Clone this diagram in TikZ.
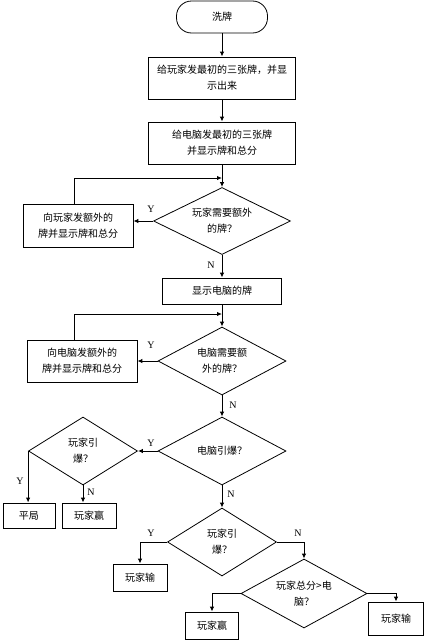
\documentclass[tikz,border=0pt]{standalone}
\usepackage{fontspec}
\setmainfont{Liberation Serif}
\newfontfamily\cjk{Noto Sans CJK SC}
\usetikzlibrary{shapes.geometric}
\usetikzlibrary{arrows.meta}
\tikzstyle{flowChart} = [x = 1pt, y = -1pt, every node/.style={font=\cjk\fontsize{10}{16}\selectfont}]
\tikzstyle{boxLine} = [draw, line width = .8pt, align = center, inner sep = 0pt]
\tikzstyle{startBox} = [boxLine, rectangle, rounded corners = 15pt]
\tikzstyle{stepBox} = [boxLine, rectangle]
\tikzstyle{decisionBox} = [boxLine, diamond, aspect = 2]
\tikzstyle{flowLine} = [line width = 1pt, -{Latex[length=5pt, width=4.5pt]}]
\tikzstyle{branchText} = [font=\rmfamily\fontsize{10}{12}\selectfont]
\newcommand{\stepNode}[6]{\node [stepBox, minimum width = #4pt, minimum height = #5pt] (#1) at (#2,#3) {#6};}
\newcommand{\decisionNode}[6]{\node [decisionBox, minimum width = #4pt, minimum height = #5pt] (#1) at (#2,#3) {#6};}
\newcommand{\branchLabel}[4]{\node [branchText] (#1) at (#2,#3) {#4};}

\begin{document}
\begin{tikzpicture}[flowChart]
  \useasboundingbox (0,0) rectangle (425,640);
  % start and first deals
  \node [startBox, minimum width = 91pt, minimum height = 32pt] (shuffle) at (222,17) {洗牌};
  \stepNode{dealPlayer}{222}{78}{147}{42}{给玩家发最初的三张牌，并显\\示出来}
  \stepNode{dealComputer}{222}{143}{147}{42}{给电脑发最初的三张牌\\并显示牌和总分}
  % player draws
  \decisionNode{needPlayer}{222}{221}{137}{67}{玩家需要额外\\的牌？}
  \stepNode{extraPlayer}{78}{225.5}{110}{43}{向玩家发额外的\\牌并显示牌和总分}
  \stepNode{showComputer}{222}{291}{119}{26}{显示电脑的牌}
  % computer draws
  \decisionNode{needComputer}{222}{361}{128}{68}{电脑需要额\\外的牌？}
  \stepNode{extraComputer}{82}{361}{110}{42}{向电脑发额外的\\牌并显示牌和总分}
  % results
  \decisionNode{computerBust}{222}{451}{128}{68}{电脑引爆？}
  \decisionNode{playerBustA}{83}{451}{109}{68}{玩家引\\爆？}
  \stepNode{drawGame}{29}{515.5}{52}{25}{平局}
  \stepNode{playerWinA}{89}{515.5}{54}{25}{玩家赢}
  \decisionNode{playerBustB}{222}{542}{109}{68}{玩家引\\爆？}
  \stepNode{playerLoseA}{140}{577.5}{54}{27}{玩家输}
  \decisionNode{compare}{304}{593.5}{126}{69}{玩家总分>电\\脑？}
  \stepNode{playerWinB}{212}{625.5}{53}{27}{玩家赢}
  \stepNode{playerLoseB}{396}{618.5}{55}{33}{玩家输}

  \coordinate (loopPlayer) at (74,178);
  \coordinate (joinPlayer) at (222,178);
  \coordinate (loopComputer) at (74,314);
  \coordinate (joinComputer) at (222,314);

  \draw [flowLine] (shuffle) -- (dealPlayer);
  \draw [flowLine] (dealPlayer) -- (dealComputer);
  \draw [flowLine] (dealComputer) -- (needPlayer);
  \draw [flowLine] (needPlayer.west) -- (needPlayer.west -| extraPlayer.east);
  \draw [flowLine] (extraPlayer.north -| loopPlayer) -- (loopPlayer) -- (joinPlayer);
  \draw [flowLine] (needPlayer) -- (showComputer);
  \draw [flowLine] (showComputer) -- (needComputer);
  \draw [flowLine] (needComputer.west) -- (extraComputer.east);
  \draw [flowLine] (extraComputer.north -| loopComputer) -- (loopComputer) -- (joinComputer);
  \draw [flowLine] (needComputer) -- (computerBust);
  \draw [flowLine] (computerBust.west) -- (playerBustA.east);
  \draw [flowLine] (playerBustA.west) -- (playerBustA.west |- drawGame.north);
  \draw [flowLine] (playerBustA) -- (playerBustA |- playerWinA.north);
  \draw [flowLine] (computerBust) -- (playerBustB);
  \draw [flowLine] (playerBustB.west) -| (playerLoseA.north);
  \draw [flowLine] (playerBustB.east) -| (compare.north);
  \draw [flowLine] (compare.west) -| (playerWinB.north);
  \draw [flowLine] (compare.east) -| (playerLoseB.north);

  % Y / N
  \branchLabel{yesOne}{151}{209}{Y}
  \branchLabel{noOne}{211}{265}{N}
  \branchLabel{yesTwo}{151}{345}{Y}
  \branchLabel{noTwo}{233}{405}{N}
  \branchLabel{yesThree}{151}{443}{Y}
  \branchLabel{yesFour}{20}{481}{Y}
  \branchLabel{noFour}{91}{492}{N}
  \branchLabel{noThree}{231}{494}{N}
  \branchLabel{yesFive}{151}{533}{Y}
  \branchLabel{noFive}{298}{533}{N}
\end{tikzpicture}
\end{document}
